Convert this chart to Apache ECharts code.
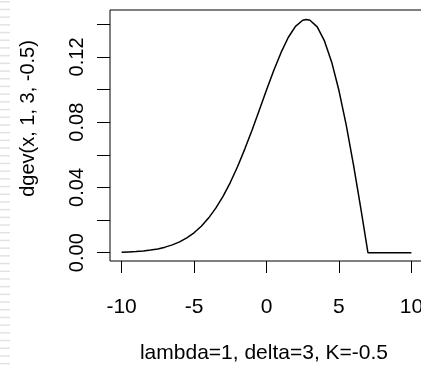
<!DOCTYPE html>
<html>
<head>
<meta charset="utf-8">
<script src="https://cdn.jsdelivr.net/npm/echarts@6/dist/echarts.min.js"></script>
<style>html,body{margin:0;padding:0;background:#fff;}#c{width:421px;height:369px;}</style>
</head>
<body>
<div id="c"></div>
<script>
// x positions and density values
var xValues = [-10, -9.5, -9, -8.5, -8, -7.5, -7, -6.5, -6, -5.5, -5, -4.5, -4, -3.5, -3, -2.5, -2, -1.5, -1, -0.5,
  0, 0.5, 1, 1.5, 2, 2.5, 2.75, 3, 3.5, 4, 4.5, 5, 5.5, 6, 6.5, 7, 7.5, 8, 8.5, 9, 9.5, 10];
var densityValues = [0.0003, 0.0005, 0.0007, 0.0011, 0.0016, 0.0023, 0.0034, 0.0048, 0.0066, 0.0091, 0.0122, 0.0162, 0.0212, 0.0273, 0.0345, 0.0430, 0.0527, 0.0635, 0.0751, 0.0873,
  0.0997, 0.1117, 0.1226, 0.1319, 0.1387, 0.1425, 0.1430, 0.1425, 0.1384, 0.1298, 0.1168, 0.0994, 0.0783, 0.0540, 0.0276, 0, 0, 0, 0, 0, 0, 0];
var xTicks = [-10, -5, 0, 5, 10];
var yTicks = [0, 0.02, 0.04, 0.06, 0.08, 0.10, 0.12, 0.14];
var yLabels = [0, 0.04, 0.08, 0.12];
var xTitle = 'lambda=1, delta=3, K=-0.5';
var yTitle = 'dgev(x, 1, 3, -0.5)';

var chart = echarts.init(document.getElementById('c'), null, {renderer: 'canvas'});
var pts = xValues.map(function (x, i) { return [x, densityValues[i]]; });
var font = '"Liberation Sans", Arial, sans-serif';

var stripes = [];
for (var k = 0; k < 48; k++) {
  stripes.push({type: 'rect', shape: {x: 0, y: 1 + k * 7.7, width: 10, height: 1.5}, style: {fill: '#e2e2e2'}, silent: true});
}

chart.setOption({
  animation: false,
  backgroundColor: '#fff',
  graphic: stripes,
  grid: {left: 110, top: 10, right: -2, bottom: 108, show: true, borderColor: '#000', borderWidth: 1,
    backgroundColor: 'transparent', containLabel: false, outerBoundsMode: 'none'},
  xAxis: {
    type: 'value', min: -10.8, max: 10.8,
    name: xTitle, nameLocation: 'middle', nameGap: 82,
    nameTextStyle: {fontFamily: font, fontSize: 21, color: '#000', padding: [0, 5, 0, 0]},
    axisLine: {show: false, onZero: false},
    axisTick: {show: true, inside: false, length: 12, lineStyle: {color: '#000', width: 1}, customValues: xTicks},
    axisLabel: {show: true, margin: 36, fontFamily: font, fontSize: 21, color: '#000', customValues: xTicks,
      formatter: function (v) { return String(v); }},
    splitLine: {show: false}
  },
  yAxis: {
    type: 'value', min: -0.00509, max: 0.14877,
    name: yTitle, nameLocation: 'middle', nameGap: 72, nameRotate: 90,
    nameTextStyle: {fontFamily: font, fontSize: 20, color: '#000', padding: [0, 0, 0, 34]},
    axisLine: {show: false, onZero: false},
    axisTick: {show: true, inside: false, length: 13, lineStyle: {color: '#000', width: 1}, customValues: yTicks},
    axisLabel: {show: true, rotate: 90, margin: 23, fontFamily: font, fontSize: 20, color: '#000', customValues: yLabels,
      formatter: function (v) { return v.toFixed(2); }},
    splitLine: {show: false}
  },
  series: [{
    type: 'line', data: pts, symbol: 'none', smooth: false,
    lineStyle: {color: '#000', width: 1.5}
  }]
});
</script>
</body>
</html>
